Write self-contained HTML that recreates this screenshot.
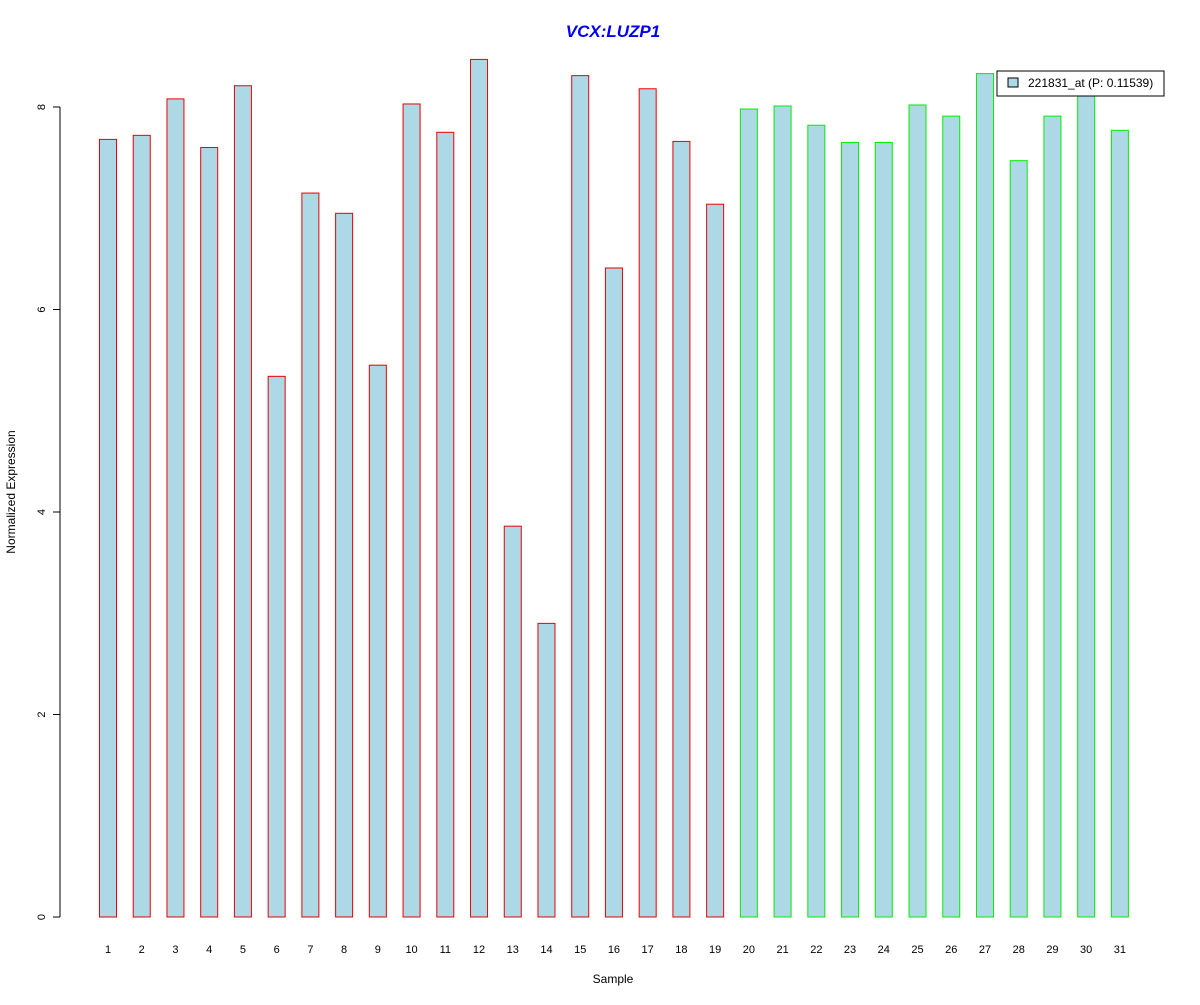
<!DOCTYPE html>
<html><head><meta charset="utf-8"><style>
body{margin:0;background:#fff;font-family:"Liberation Sans",sans-serif}
svg text{font-family:"Liberation Sans",sans-serif}
</style></head><body>
<svg id="chart" width="1200" height="1000" xmlns="http://www.w3.org/2000/svg">
<rect width="1200" height="1000" fill="#fff"/>
<text x="613" y="37" text-anchor="middle" font-size="17" font-weight="bold" font-style="italic" fill="#0000ee">VCX:LUZP1</text>
<text x="613" y="983" text-anchor="middle" font-size="12">Sample</text>
<text x="15" y="492" text-anchor="middle" font-size="12" transform="rotate(-90 15 492)">Normalized Expression</text>
<g id="bars"></g><g id="yaxis"></g><g id="xlabels"></g>
<g>
<rect x="997" y="71" width="167" height="25" fill="#fff" stroke="#000"/>
<rect x="1008" y="78" width="10" height="9" fill="#add8e6" stroke="#000"/>
<text x="1028" y="87" font-size="12">221831_at (P: 0.11539)</text>
</g>
</svg>
<script>
const categories=[1,2,3,4,5,6,7,8,9,10,11,12,13,14,15,16,17,18,19,20,21,22,23,24,25,26,27,28,29,30,31];
const values=[7.68,7.72,8.08,7.60,8.21,5.34,7.15,6.95,5.45,8.03,7.75,8.47,3.86,2.90,8.31,6.41,8.18,7.66,7.04,7.98,8.01,7.82,7.65,7.65,8.02,7.91,8.33,7.47,7.91,8.15,7.77];
const groups=[0,0,0,0,0,0,0,0,0,0,0,0,0,0,0,0,0,0,0,1,1,1,1,1,1,1,1,1,1,1,1];
const yTicks=[0,2,4,6,8];
const NS="http://www.w3.org/2000/svg";
const y=v=>917-v*101.25;
const x=i=>108+i*33.73;
const bars=document.getElementById('bars');
values.forEach((v,i)=>{
 const r=document.createElementNS(NS,'rect');
 
 
 r.setAttribute('x',x(i)-8.5);r.setAttribute('width',17);
 r.setAttribute('y',y(v));r.setAttribute('height',917-y(v));
 r.setAttribute('fill','#add8e6');r.setAttribute('stroke',groups[i]?'#00ee00':'#ee0000');
 bars.appendChild(r);
 const t=document.createElementNS(NS,'text');
 
 
 t.setAttribute('x',x(i));t.setAttribute('y',953);t.setAttribute('text-anchor','middle');t.setAttribute('font-size','11');
 t.textContent=categories[i];
 document.getElementById('xlabels').appendChild(t);
});
const ya=document.getElementById('yaxis');
const ax=document.createElementNS(NS,'line');


ax.setAttribute('x1',60);ax.setAttribute('x2',60);ax.setAttribute('y1',y(0));ax.setAttribute('y2',y(8));ax.setAttribute('stroke','#000');
ya.appendChild(ax);
yTicks.forEach(v=>{
 const l=document.createElementNS(NS,'line');
 
 
 l.setAttribute('x1',53);l.setAttribute('x2',60);l.setAttribute('y1',y(v));l.setAttribute('y2',y(v));l.setAttribute('stroke','#000');
 ya.appendChild(l);
 const t=document.createElementNS(NS,'text');
 
 
 t.setAttribute('x',45);t.setAttribute('y',y(v));t.setAttribute('font-size','11');t.setAttribute('text-anchor','middle');
 t.setAttribute('transform','rotate(-90 45 '+y(v)+')');
 t.textContent=v;
 ya.appendChild(t);
});
</script>
</body></html>
